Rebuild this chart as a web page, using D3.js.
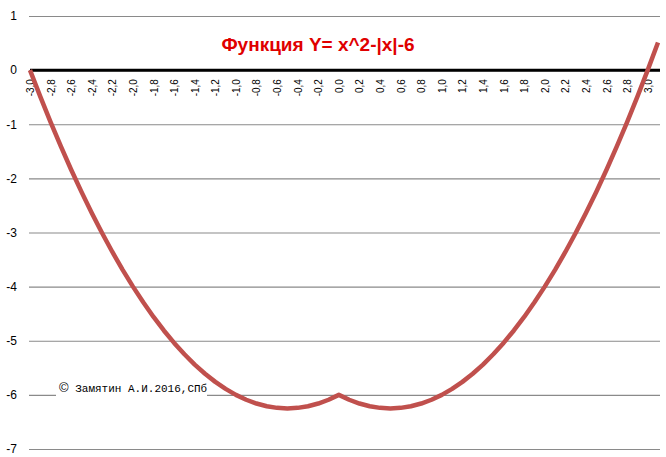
<!DOCTYPE html>
<html>
<head>
<meta charset="utf-8">
<script src="https://cdn.jsdelivr.net/npm/d3@7"></script>
<style>
  body { margin: 0; background: #fff; }
  svg { display: block; }
  .tick text { font-family: Arial, "Liberation Sans", sans-serif; }
</style>
</head>
<body>
<svg width="666" height="457"></svg>
<script>
  const titleText = 'Функция Y= x^2-|x|-6';
  const noteMark = '©';
  const noteText = ' Замятин А.И.2016,СПб';

  // x values from -3,0 to 3,1 with step 0,1
  const categories = [
    '-3,0', '-2,9', '-2,8', '-2,7', '-2,6', '-2,5', '-2,4', '-2,3', '-2,2', '-2,1',
    '-2,0', '-1,9', '-1,8', '-1,7', '-1,6', '-1,5', '-1,4', '-1,3', '-1,2', '-1,1',
    '-1,0', '-0,9', '-0,8', '-0,7', '-0,6', '-0,5', '-0,4', '-0,3', '-0,2', '-0,1',
    '0,0', '0,1', '0,2', '0,3', '0,4', '0,5', '0,6', '0,7', '0,8', '0,9',
    '1,0', '1,1', '1,2', '1,3', '1,4', '1,5', '1,6', '1,7', '1,8', '1,9',
    '2,0', '2,1', '2,2', '2,3', '2,4', '2,5', '2,6', '2,7', '2,8', '2,9',
    '3,0', '3,1'
  ];

  const yValues = [
    0, -0.49, -0.96, -1.41, -1.84, -2.25, -2.64, -3.01, -3.36, -3.69,
    -4, -4.29, -4.56, -4.81, -5.04, -5.25, -5.44, -5.61, -5.76, -5.89,
    -6, -6.09, -6.16, -6.21, -6.24, -6.25, -6.24, -6.21, -6.16, -6.09,
    -6, -6.09, -6.16, -6.21, -6.24, -6.25, -6.24, -6.21, -6.16, -6.09,
    -6, -5.89, -5.76, -5.61, -5.44, -5.25, -5.04, -4.81, -4.56, -4.29,
    -4, -3.69, -3.36, -3.01, -2.64, -2.25, -1.84, -1.41, -0.96, -0.49,
    0, 0.51
  ];

  const yTicks = [1, 0, -1, -2, -3, -4, -5, -6, -7];

  const svg = d3.select('svg');
  const plot = { left: 29, right: 660, top: 16, bottom: 449 };

  const xScale = d3.scalePoint()
    .domain(categories)
    .range([plot.left + 1, 658]);

  const yScale = d3.scaleLinear()
    .domain([-7, 1])
    .range([plot.bottom, plot.top]);

  // horizontal grid + y labels (plain hyphen minus, as in the original)
  const yAxis = d3.axisLeft(yScale)
    .tickValues(yTicks)
    .tickFormat(d => String(d))
    .tickSize(-(plot.right - plot.left))
    .tickPadding(12);

  const yAxisG = svg.append('g')
    .attr('transform', `translate(${plot.left},0)`)
    .call(yAxis);
  yAxisG.select('.domain').remove();
  yAxisG.selectAll('.tick line')
    .attr('stroke', '#8a8a8a')
    .attr('stroke-width', 1.2);
  yAxisG.selectAll('.tick text')
    .attr('fill', '#000')
    .attr('font-size', 12)
    .attr('x', -12);

  // copyright note sits over the -6 gridline
  const noteG = svg.append('g');
  noteG.append('rect')
    .attr('x', 56).attr('y', 377)
    .attr('width', 151).attr('height', 19)
    .attr('fill', '#fff');
  const note = noteG.append('text')
    .attr('x', 59).attr('y', 392)
    .attr('font-family', '"Liberation Mono", "DejaVu Sans Mono", monospace')
    .attr('font-size', 11)
    .attr('fill', '#000');
  note.append('tspan')
    .attr('font-family', 'Arial, "Liberation Sans", sans-serif')
    .attr('font-size', 13)
    .text(noteMark);
  note.append('tspan').text(noteText);

  // x category axis along y = 0
  const xAxis = d3.axisBottom(xScale)
    .tickValues(categories.filter((d, i) => i % 2 === 0))
    .tickSize(0)
    .tickPadding(0);

  const xAxisG = svg.append('g')
    .attr('transform', `translate(0,${yScale(0)})`)
    .call(xAxis);
  xAxisG.select('.domain').remove();
  xAxisG.selectAll('.tick text')
    .attr('transform', 'rotate(-90)')
    .attr('text-anchor', 'end')
    .attr('x', -9)
    .attr('y', 0)
    .attr('dy', '0.35em')
    .attr('dx', 0)
    .attr('font-size', 10)
    .attr('fill', '#000');

  svg.append('line')
    .attr('x1', plot.left + 1).attr('x2', plot.right)
    .attr('y1', yScale(0)).attr('y2', yScale(0))
    .attr('stroke', '#000')
    .attr('stroke-width', 3);

  // the curve
  const line = d3.line()
    .x((d, i) => xScale(categories[i]))
    .y(d => yScale(d));

  svg.append('path')
    .datum(yValues)
    .attr('d', line)
    .attr('fill', 'none')
    .attr('stroke', '#c0504d')
    .attr('stroke-width', 4.5)
    .attr('stroke-linejoin', 'round');

  svg.append('text')
    .attr('x', 318).attr('y', 51)
    .attr('text-anchor', 'middle')
    .attr('font-family', 'Arial, "Liberation Sans", sans-serif')
    .attr('font-weight', 'bold')
    .attr('font-size', 19)
    .attr('fill', '#e00000')
    .text(titleText);
</script>
</body>
</html>
